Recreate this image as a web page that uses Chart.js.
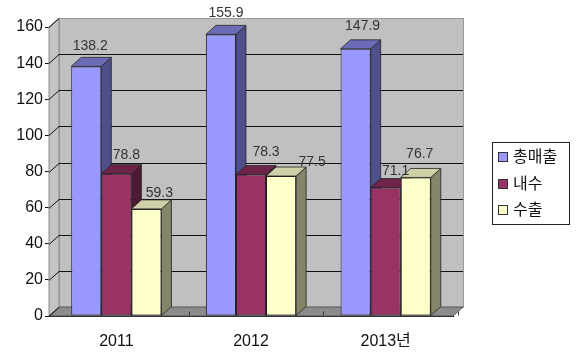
<!DOCTYPE html>
<html>
<head>
<meta charset="utf-8">
<script src="https://cdn.jsdelivr.net/npm/chart.js@4"></script>
<style>
html,body{margin:0;padding:0;background:#fff;}
canvas{display:block;}
</style>
</head>
<body>
<canvas id="c" width="580" height="362"></canvas>
<script>
const categories = ['2011', '2012', '2013년'];
const seriesNames = ['총매출', '내수', '수출'];
const totalSales = [138.2, 155.9, 147.9];
const domestic = [78.8, 78.3, 71.1];
const exports = [59.3, 77.5, 76.7];
const yTicks = [0, 20, 40, 60, 80, 100, 120, 140, 160];

// styling
const frontColors = ['#9999ff', '#993366', '#ffffcc'];
const sideColors = ['#4f4f8c', '#4c1a33', '#85856a'];
const topColors = ['#6b6bb8', '#6e2449', '#cfcfa8'];
const DX = 10, DY = -9;
// label nudges relative to bar front-top centre [series][category]
const labelNudge = [
  [[4, -20], [5, -21], [7, -23]],
  [[10, -19], [15, -22], [10, -16]],
  [[13, -16], [31, -14], [4, -23]]
];
const FONT = "'Liberation Sans', 'Noto Sans CJK KR', sans-serif";

const threeD = {
  id: 'threeD',
  beforeDatasetsDraw(chart) {
    const ctx = chart.ctx;
    const a = chart.chartArea;
    const ys = chart.scales.y;
    const xs = chart.scales.x;
    ctx.save();
    // back wall
    ctx.fillStyle = '#c0c0c0';
    ctx.fillRect(a.left + DX, a.top + DY, a.right - a.left, a.bottom - a.top);
    ctx.strokeStyle = '#9a9a9a';
    ctx.lineWidth = 1;
    ctx.strokeRect(a.left + DX + 0.5, a.top + DY + 0.5, a.right - a.left, a.bottom - a.top);
    // left side wall
    ctx.fillStyle = '#c4c4c4';
    ctx.beginPath();
    ctx.moveTo(a.left, a.top);
    ctx.lineTo(a.left + DX, a.top + DY);
    ctx.lineTo(a.left + DX, a.bottom + DY);
    ctx.lineTo(a.left, a.bottom);
    ctx.closePath();
    ctx.fill();
    ctx.strokeStyle = '#8a8a8a';
    ctx.stroke();
    // floor
    ctx.fillStyle = '#8c8c8c';
    ctx.beginPath();
    ctx.moveTo(a.left, a.bottom);
    ctx.lineTo(a.left + DX, a.bottom + DY);
    ctx.lineTo(a.right + DX, a.bottom + DY);
    ctx.lineTo(a.right, a.bottom);
    ctx.closePath();
    ctx.fill();
    ctx.strokeStyle = '#555';
    ctx.stroke();
    // gridlines
    ctx.strokeStyle = '#111';
    ctx.lineWidth = 1;
    yTicks.forEach(v => {
      if (v === 0 || v === 160) return;
      const y = Math.round(ys.getPixelForValue(v)) + 0.5;
      ctx.beginPath();
      ctx.moveTo(a.left + DX, y + DY);
      ctx.lineTo(a.right + DX, y + DY);
      ctx.stroke();
    });
    yTicks.forEach(v => {
      const y = Math.round(ys.getPixelForValue(v)) + 0.5;
      ctx.beginPath();
      ctx.moveTo(a.left, y);
      ctx.lineTo(a.left + DX, y + DY);
      ctx.stroke();
    });
    // floor category boundary ticks
    const step = xs.getPixelForValue(1) - xs.getPixelForValue(0);
    ctx.strokeStyle = '#333';
    for (let i = 0; i < categories.length; i++) {
      const x = Math.round(xs.getPixelForValue(i) + step / 2) + 0.5;
      ctx.beginPath();
      ctx.moveTo(x + DX * 0.5, a.bottom + DY * 0.5);
      ctx.lineTo(x + DX * 0.5, a.bottom + DY * 0.5 + 4);
      ctx.stroke();
    }
    // side and top faces of bars
    chart.data.datasets.forEach((ds, di) => {
      const meta = chart.getDatasetMeta(di);
      meta.data.forEach(bar => {
        const p = bar.getProps(['x', 'y', 'width', 'base'], true);
        const l = p.x - p.width / 2, r = p.x + p.width / 2;
        ctx.lineWidth = 0.8;
        ctx.strokeStyle = '#222';
        ctx.fillStyle = sideColors[di];
        ctx.beginPath();
        ctx.moveTo(r, p.y);
        ctx.lineTo(r + DX, p.y + DY);
        ctx.lineTo(r + DX, p.base + DY);
        ctx.lineTo(r, p.base);
        ctx.closePath();
        ctx.fill();
        ctx.stroke();
        ctx.fillStyle = topColors[di];
        ctx.beginPath();
        ctx.moveTo(l, p.y);
        ctx.lineTo(l + DX, p.y + DY);
        ctx.lineTo(r + DX, p.y + DY);
        ctx.lineTo(r, p.y);
        ctx.closePath();
        ctx.fill();
        ctx.stroke();
      });
    });
    ctx.restore();
  },
  afterDatasetsDraw(chart) {
    const ctx = chart.ctx;
    ctx.save();
    ctx.font = '14px ' + FONT;
    ctx.fillStyle = '#333';
    ctx.textAlign = 'center';
    ctx.textBaseline = 'middle';
    chart.data.datasets.forEach((ds, di) => {
      const meta = chart.getDatasetMeta(di);
      meta.data.forEach((bar, i) => {
        const p = bar.getProps(['x', 'y'], true);
        const n = labelNudge[di][i];
        ctx.fillText(ds.data[i].toFixed(1), p.x + n[0], p.y + n[1]);
      });
    });
    ctx.restore();
  },
  afterDraw(chart) {
    const ctx = chart.ctx;
    ctx.save();
    const bx = 492.5, by = 142.5, bw = 77, bh = 82;
    ctx.fillStyle = '#fff';
    ctx.fillRect(bx, by, bw, bh);
    ctx.strokeStyle = '#222';
    ctx.lineWidth = 1;
    ctx.strokeRect(bx, by, bw, bh);
    ctx.font = '16px ' + FONT;
    ctx.textBaseline = 'middle';
    ctx.textAlign = 'left';
    chart.data.datasets.forEach((ds, i) => {
      const cy = 157 + i * 26.5;
      ctx.fillStyle = frontColors[i];
      ctx.fillRect(498.5, Math.round(cy - 5) + 0.5, 9, 9);
      ctx.strokeStyle = '#333';
      ctx.strokeRect(498.5, Math.round(cy - 5) + 0.5, 9, 9);
      ctx.fillStyle = '#111';
      ctx.fillText(ds.label, 513, cy + 1);
    });
    ctx.restore();
  }
};

new Chart(document.getElementById('c'), {
  type: 'bar',
  data: {
    labels: categories,
    datasets: [
      { label: seriesNames[0], data: totalSales, backgroundColor: frontColors[0] },
      { label: seriesNames[1], data: domestic, backgroundColor: frontColors[1] },
      { label: seriesNames[2], data: exports, backgroundColor: frontColors[2] }
    ].map(d => Object.assign(d, { borderColor: '#222', borderWidth: 1, borderSkipped: false, categoryPercentage: 0.67, barPercentage: 1 }))
  },
  options: {
    responsive: false,
    animation: false,
    layout: { padding: { left: 0, top: 27, right: 127, bottom: 0 } },
    plugins: { legend: { display: false }, tooltip: { enabled: false } },
    scales: {
      y: {
        min: 0, max: 160,
        afterFit(s) { s.width = 49; },
        afterBuildTicks(s) { s.ticks = yTicks.map(v => ({ value: v })); },
        ticks: { color: '#111', font: { size: 16, family: FONT }, padding: 2 },
        grid: { drawOnChartArea: false, drawTicks: true, tickLength: 4, color: '#111' },
        border: { display: true, color: '#111' }
      },
      x: {
        afterFit(s) { s.height = 46; },
        ticks: { color: '#111', font: { size: 16, family: FONT }, padding: 8 },
        grid: { display: false },
        border: { display: true, color: '#111' }
      }
    }
  },
  plugins: [threeD]
});
</script>
</body>
</html>
